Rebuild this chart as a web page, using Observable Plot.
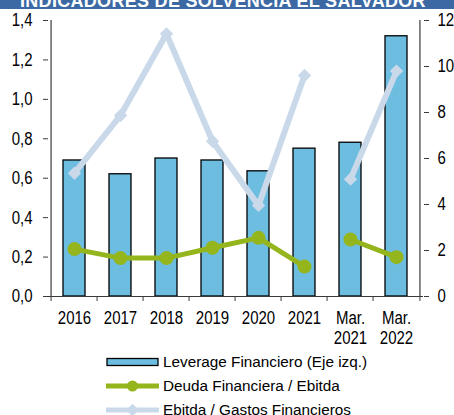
<!DOCTYPE html>
<html>
<head>
<meta charset="utf-8">
<script src="https://cdn.jsdelivr.net/npm/d3@7"></script>
<script src="https://cdn.jsdelivr.net/npm/@observablehq/plot@0.6"></script>
<style>
  html, body { margin: 0; padding: 0; background: #fff; }
  body { position: relative; width: 454px; height: 415px; overflow: hidden; font-family: "Liberation Sans", Arial, sans-serif; }
  #banner { position: absolute; left: 0; top: 0; width: 454px; height: 9px; background: #3c69a3; overflow: hidden; z-index: 2; }
  #banner span { position: absolute; left: 20px; top: -7.8px; font: bold 18px "Liberation Sans", Arial, sans-serif; line-height: 18px; color: #fff; white-space: nowrap; letter-spacing: 0.3px; }
  #chart { position: absolute; left: 0; top: 0; }
  #legend { position: absolute; left: 0; top: 350px; width: 454px; font: 15.3px "Liberation Sans", Arial, sans-serif; color: #000; }
  .row { position: absolute; left: 106px; height: 24px; display: flex; align-items: center; white-space: nowrap; }
  .row svg { margin-right: 4px; }
</style>
</head>
<body>
<div id="banner"><span>INDICADORES DE SOLVENCIA EL SALVADOR</span></div>
<div id="chart"></div>
<div id="legend"></div>
<script>
// ---- data ----
const categories = ["2016", "2017", "2018", "2019", "2020", "2021", "Mar. 2021", "Mar. 2022"];
const tickLabels = ["2016", "2017", "2018", "2019", "2020", "2021", "Mar.\n2021", "Mar.\n2022"];
const segments = ["anual", "anual", "anual", "anual", "anual", "anual", "marzo", "marzo"];
const leverage = [0.69, 0.62, 0.70, 0.69, 0.635, 0.75, 0.78, 1.32];
const deudaEbitda = [2.06, 1.67, 1.67, 2.12, 2.55, 1.30, 2.48, 1.71];
const ebitdaGastos = [5.36, 7.87, 11.42, 6.75, 3.96, 9.61, 5.10, 9.80];
const leftTicks = [0, 0.2, 0.4, 0.6, 0.8, 1.0, 1.2, 1.4];
const rightTicks = [0, 2, 4, 6, 8, 10, 12];
const leftMax = 1.4, rightMax = 12;
const seriesNames = ["Leverage Financiero (Eje izq.)", "Deuda Financiera / Ebitda", "Ebitda / Gastos Financieros"];
const colors = { bar: "#6cbde0", green: "#94b51c", light: "#c9d9ea", axis: "#3a3a3a" };

const rows = categories.map((c, i) => ({
  cat: c, seg: segments[i], lev: leverage[i],
  deuda: deudaEbitda[i] * leftMax / rightMax,
  ebitda: ebitdaGastos[i] * leftMax / rightMax
}));

const W = 454, H = 350, mL = 48, mR = 31, mT = 20, mB = 54;
const step = (W - mL - mR) / categories.length;
const labelOf = new Map(categories.map((c, i) => [c, tickLabels[i]]));
const FS = 18.5, SQUEEZE = 0.81;

const chart = Plot.plot({
  width: W, height: H,
  marginLeft: mL, marginRight: mR, marginTop: mT, marginBottom: mB,
  style: { fontFamily: '"Liberation Sans", Arial, sans-serif', fontSize: FS + "px", color: "#000", background: "transparent" },
  x: { type: "band", domain: categories, paddingInner: 0.52, paddingOuter: 0.26, label: null },
  y: { domain: [0, leftMax], label: null },
  marks: [
    Plot.barY(rows, { x: "cat", y: "lev", fill: colors.bar, stroke: "#000", strokeWidth: 1.3 }),
    Plot.line(rows, { x: "cat", y: "ebitda", z: "seg", stroke: colors.light, strokeWidth: 6 }),
    Plot.dot(rows, { x: "cat", y: "ebitda", symbol: "diamond2", r: 6, fill: colors.light, stroke: "none" }),
    Plot.line(rows, { x: "cat", y: "deuda", z: "seg", stroke: colors.green, strokeWidth: 5 }),
    Plot.dot(rows, { x: "cat", y: "deuda", r: 7, fill: colors.green, stroke: "none" }),
    // axis lines
    Plot.ruleY([0], { stroke: colors.axis, strokeWidth: 1.2 }),
    Plot.ruleX([categories[0]], { dx: -step / 2, stroke: colors.axis, strokeWidth: 1.2 }),
    Plot.ruleX([categories[categories.length - 1]], { dx: step / 2, stroke: colors.axis, strokeWidth: 1.2 }),
    // left axis
    Plot.axisY(leftTicks, { anchor: "left", label: null, tickSize: 5, tickPadding: 11, stroke: colors.axis, tickFormat: d => d.toFixed(1).replace(".", ","), fontSize: FS }),
    // right axis
    Plot.axisY(rightTicks.map(t => t * leftMax / rightMax), { anchor: "right", label: null, tickSize: 5, tickPadding: 9, stroke: colors.axis, tickFormat: d => String(Math.round(d * rightMax / leftMax)), fontSize: FS }),
    // x boundary ticks
    Plot.axisX({ tickSize: 5, text: null, label: null, dx: -step / 2, stroke: colors.axis }),
    Plot.axisX([categories[categories.length - 1]], { tickSize: 5, text: null, label: null, dx: step / 2, stroke: colors.axis }),
    // x labels
    Plot.axisX({ tickSize: 0, tickPadding: 13, label: null, tickFormat: d => labelOf.get(d), fontSize: FS, lineHeight: 1.1 })
  ]
});
document.getElementById("chart").appendChild(chart);

// condensed look for axis labels (reference uses a narrow face): squeeze horizontally only
chart.querySelectorAll("text").forEach(t => {
  const tr = t.getAttribute("transform") || "";
  const xa = t.getAttribute("x");
  let pre = "";
  if (xa !== null && /^-?[\d.]+$/.test(xa.trim()) && +xa !== 0) {
    pre = ` translate(${+xa},0)`;
    t.setAttribute("x", "0");
  }
  t.setAttribute("transform", `${tr}${pre} scale(${SQUEEZE},1)`);
});

// legend
const legend = document.getElementById("legend");
const swatches = [
  `<svg width="53" height="12"><rect x="1" y="2.5" width="51" height="7" fill="${colors.bar}" stroke="#000" stroke-width="1.3"/></svg>`,
  `<svg width="53" height="14"><line x1="0" x2="53" y1="7" y2="7" stroke="${colors.green}" stroke-width="5"/><circle cx="26.5" cy="7" r="5.5" fill="${colors.green}"/></svg>`,
  `<svg width="53" height="14"><line x1="0" x2="53" y1="7" y2="7" stroke="${colors.light}" stroke-width="5"/><rect x="22" y="2.5" width="9" height="9" transform="rotate(45 26.5 7)" fill="${colors.light}"/></svg>`
];
seriesNames.forEach((name, i) => {
  const r = document.createElement("div");
  r.className = "row";
  r.style.top = (i * 24) + "px";
  r.innerHTML = swatches[i] + `<span>${name}</span>`;
  legend.appendChild(r);
});
</script>
</body>
</html>
